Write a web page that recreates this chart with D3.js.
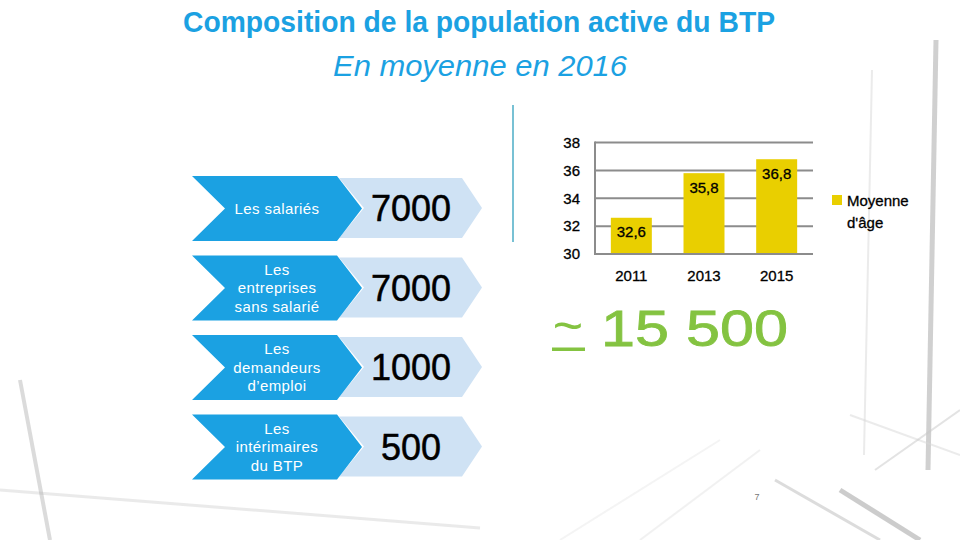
<!DOCTYPE html>
<html>
<head>
<meta charset="utf-8">
<script src="https://cdn.jsdelivr.net/npm/d3@7"></script>
<style>
  html, body { margin: 0; padding: 0; background: #ffffff; }
  svg { display: block; }
</style>
</head>
<body>
<svg id="chart" width="960" height="540"></svg>
<script>
// ---------- data ----------
const titleText = "Composition de la population active du BTP";
const subtitleText = "En moyenne en 2016";
const categories = ["Les salariés", "Les entreprises sans salarié", "Les demandeurs d’emploi", "Les intérimaires du BTP"];
const categoryLines = [["Les salariés"], ["Les", "entreprises", "sans salarié"], ["Les", "demandeurs", "d’emploi"], ["Les", "intérimaires", "du BTP"]];
const counts = [7000, 7000, 1000, 500];
const totalLabel = "15 500";
const years = ["2011", "2013", "2015"];
const ages = [32.6, 35.8, 36.8];
const ageTicks = [30, 32, 34, 36, 38];
const seriesName = ["Moyenne", "d'âge"];
const pageNumber = "7";

// ---------- setup ----------
const svg = d3.select("#chart");
const FONT = "'Liberation Sans', Arial, sans-serif";
const BLUE = "#1BA1E2", LIGHT = "#CFE2F4", GREEN = "#84C341", YELLOW = "#E9CF00";

// faint background decoration (slide photo)
const deco = svg.append("g").attr("fill", "none");
const decoLines = [
  [[936, 40], [928, 470], "#8a8a8a", 5, 0.4],
  [[872, 70], [864, 455], "#d8d8d8", 2, 0.5],
  [[850, 415], [960, 455], "#d8d8d8", 2, 0.5],
  [[875, 470], [960, 410], "#c8c8c8", 2, 0.5],
  [[560, 540], [720, 440], "#ececec", 2, 0.6],
  [[640, 540], [760, 450], "#e8e8e8", 2, 0.6],
  [[775, 480], [880, 540], "#a8a8a8", 3, 0.4],
  [[840, 490], [920, 540], "#555", 5, 0.3],
  [[20, 380], [50, 540], "#888", 4, 0.3],
  [[0, 490], [480, 528], "#aaa", 3, 0.25]
];
decoLines.forEach(([a, b, c, w, o]) => {
  deco.append("line").attr("x1", a[0]).attr("y1", a[1]).attr("x2", b[0]).attr("y2", b[1])
    .attr("stroke", c).attr("stroke-width", w).attr("opacity", o);
});

// ---------- title ----------
svg.append("text").attr("x", 479).attr("y", 32).attr("text-anchor", "middle")
  .attr("font-family", FONT).attr("font-weight", "bold").attr("font-size", 29)
  .attr("fill", BLUE).attr("textLength", 592).attr("lengthAdjust", "spacingAndGlyphs")
  .text(titleText);
svg.append("text").attr("x", 480).attr("y", 76).attr("text-anchor", "middle")
  .attr("font-family", FONT).attr("font-style", "italic").attr("font-size", 29)
  .attr("fill", BLUE).attr("textLength", 294).attr("lengthAdjust", "spacingAndGlyphs")
  .text(subtitleText);

// ---------- left chevron list ----------
const rowScale = d3.scaleBand().domain(categories).range([176, 479.5]).paddingInner(0.1824).paddingOuter(0);
const H = rowScale.bandwidth();

const rows = svg.append("g").selectAll("g").data(categories).join("g")
  .attr("transform", d => `translate(0,${rowScale(d)})`);

rows.append("path").attr("fill", LIGHT)
  .attr("d", () => {
    const t = 2, b = H - 3, m = (t + b) / 2;
    return `M339,${t} L462,${t} L482,${m} L462,${b} L339,${b} L364,${m} Z`;
  });
rows.append("path").attr("fill", BLUE)
  .attr("d", () => {
    const m = H / 2;
    return `M192,0 L337,0 L362,${m} L337,${H} L192,${H} L225,${m} Z`;
  });

rows.each(function (d, i) {
  const g = d3.select(this);
  const lines = categoryLines[i];
  const lh = 18.5;
  const t = g.append("text").attr("text-anchor", "middle").attr("font-family", FONT)
    .attr("font-size", 15).attr("letter-spacing", 0.4).attr("fill", "#ffffff");
  lines.forEach((ln, k) => {
    t.append("tspan").attr("x", 277)
      .attr("y", H / 2 + (k - (lines.length - 1) / 2) * lh + 5.5)
      .text(ln);
  });
  g.append("text").attr("x", 411).attr("y", H / 2 + 13).attr("text-anchor", "middle")
    .attr("font-family", FONT).attr("font-size", 36).attr("fill", "#000")
    .attr("stroke", "#000").attr("stroke-width", 0.5)
    .text(String(counts[i]));
});

// ---------- teal separator ----------
svg.append("line").attr("x1", 513).attr("y1", 105).attr("x2", 513).attr("y2", 242)
  .attr("stroke", "#4BACC6").attr("stroke-width", 1.5);

// ---------- bar chart ----------
const x = d3.scaleBand().domain(years).range([595, 813]).paddingInner(0.436).paddingOuter(0.218);
const y = d3.scaleLinear().domain([30, 38]).range([254, 142.5]);

const grid = svg.append("g");
grid.selectAll("line").data(ageTicks).join("line")
  .attr("x1", 595).attr("x2", 813).attr("y1", d => y(d)).attr("y2", d => y(d))
  .attr("stroke", "#8c8c8c").attr("stroke-width", 2);
svg.append("line").attr("x1", 595).attr("x2", 595).attr("y1", y(38) - 1).attr("y2", y(30) + 1)
  .attr("stroke", "#8c8c8c").attr("stroke-width", 2);

const yAxis = d3.axisLeft(y).tickValues(ageTicks).tickSize(0).tickPadding(15).tickFormat(d3.format("d"));
const ya = svg.append("g").attr("transform", "translate(595,0)").call(yAxis);
ya.select(".domain").remove();
ya.selectAll("text").attr("font-family", FONT).attr("font-size", 15).attr("fill", "#000")
  .attr("stroke", "#000").attr("stroke-width", 0.3);

const xAxis = d3.axisBottom(x).tickSize(0).tickPadding(16);
const xa = svg.append("g").attr("transform", `translate(0,${y(30)})`).call(xAxis);
xa.select(".domain").remove();
xa.selectAll("text").attr("font-family", FONT).attr("font-size", 15).attr("fill", "#000")
  .attr("stroke", "#000").attr("stroke-width", 0.3);

svg.append("g").selectAll("rect").data(years).join("rect")
  .attr("x", d => x(d)).attr("width", x.bandwidth())
  .attr("y", (d, i) => y(ages[i])).attr("height", (d, i) => y(30) - y(ages[i]) - 1)
  .attr("fill", YELLOW);

svg.append("g").selectAll("text").data(years).join("text")
  .attr("x", d => x(d) + x.bandwidth() / 2)
  .attr("y", (d, i) => y(ages[i]) + 19.5)
  .attr("text-anchor", "middle").attr("font-family", FONT).attr("font-size", 15).attr("fill", "#000")
  .attr("stroke", "#000").attr("stroke-width", 0.3)
  .text((d, i) => String(ages[i]).replace(".", ","));

// legend
svg.append("rect").attr("x", 832).attr("y", 195).attr("width", 10).attr("height", 10).attr("fill", YELLOW);
const lg = svg.append("text").attr("font-family", FONT).attr("font-size", 15).attr("fill", "#000")
  .attr("stroke", "#000").attr("stroke-width", 0.3);
seriesName.forEach((s, k) => lg.append("tspan").attr("x", 847).attr("y", 205.5 + k * 22).text(s));

// ---------- total ----------
svg.append("text").attr("x", 568).attr("y", 343).attr("text-anchor", "middle")
  .attr("font-family", FONT).attr("font-size", 52).attr("fill", GREEN).text("~");
svg.append("rect").attr("x", 552).attr("y", 347.5).attr("width", 33).attr("height", 3.5).attr("fill", GREEN);
svg.append("text").attr("x", 601).attr("y", 346)
  .attr("font-family", FONT).attr("font-size", 50).attr("fill", GREEN)
  .attr("stroke", GREEN).attr("stroke-width", 0.8)
  .attr("textLength", 187).attr("lengthAdjust", "spacingAndGlyphs")
  .text(totalLabel);

// page number
svg.append("text").attr("x", 757).attr("y", 500).attr("text-anchor", "middle")
  .attr("font-family", FONT).attr("font-size", 9).attr("fill", "#777").text(pageNumber);
</script>
</body>
</html>
